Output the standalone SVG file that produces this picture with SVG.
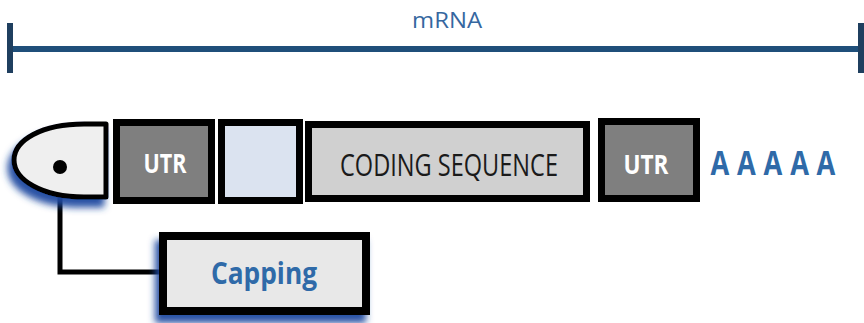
<svg xmlns="http://www.w3.org/2000/svg" width="864" height="323" viewBox="0 0 864 323">
<defs>
<style>
.box{stroke:#000;stroke-width:7}
.lbl{font-family:"Open Sans","Liberation Sans",sans-serif;text-anchor:middle}
.b{font-weight:bold}
.utr{fill:#7f7f7f}
.utrt{fill:#fff;font-size:26px}
.blue{fill:#2f6aa8}
</style>
<filter id="sh" x="-30%" y="-30%" width="160%" height="180%">
<feDropShadow dx="-4" dy="8" stdDeviation="3.5" flood-color="#1e48a0" flood-opacity="0.95"/>
</filter>
</defs>
<g id="mrna-scale">
<line x1="10" y1="49" x2="862" y2="49" stroke="#1f4f7a" stroke-width="6"/>
<line x1="10" y1="23" x2="10" y2="73" stroke="#1f3f5f" stroke-width="6"/>
<line x1="861" y1="23" x2="861" y2="73" stroke="#1f3f5f" stroke-width="6"/>
<text class="lbl" x="447" y="28" font-size="22" fill="#3567a0" textLength="70" lengthAdjust="spacingAndGlyphs">mRNA</text>
</g>
<g id="connectors">
<polyline points="60,167 60,272 162,272" fill="none" stroke="#000" stroke-width="5"/>
</g>
<g id="cap">
<path d="M106,124 L84,124 C42,124 14,140 14,160 C14,180 42,197 84,197 L106,197 Z" fill="#efefef" stroke="#000" stroke-width="5" stroke-linejoin="round" filter="url(#sh)"/>
<circle cx="60" cy="167" r="7" fill="#000"/>
</g>
<g id="utr5">
<rect class="box utr" x="116.5" y="122.5" width="95" height="78"/>
<text class="lbl b utrt" x="165" y="173" textLength="43" lengthAdjust="spacingAndGlyphs">UTR</text>
</g>
<g id="blank">
<rect class="box" x="221.5" y="122.5" width="78" height="78" fill="#dbe3f0"/>
</g>
<g id="coding">
<rect class="box" x="308.5" y="124.5" width="278" height="74" fill="#d0d0d0"/>
<text class="lbl" x="449" y="176" font-size="31" fill="#1a1a1a" textLength="218" lengthAdjust="spacingAndGlyphs">CODING SEQUENCE</text>
</g>
<g id="utr3">
<rect class="box utr" x="601.5" y="121.5" width="95" height="77"/>
<text class="lbl b utrt" x="646" y="174" textLength="45" lengthAdjust="spacingAndGlyphs">UTR</text>
</g>
<g id="polyA">
<text class="lbl b blue" transform="scale(0.8 1)" x="900 933.1 966.25 999.4 1032.5" y="175" font-size="34">AAAAA</text>
</g>
<g id="capping">
<rect x="163" y="236" width="203" height="75" fill="#e8e8e8" stroke="#000" stroke-width="8" filter="url(#sh)"/>
<text class="lbl b blue" x="264" y="284" font-size="30" textLength="106" lengthAdjust="spacingAndGlyphs">Capping</text>
</g>
</svg>
